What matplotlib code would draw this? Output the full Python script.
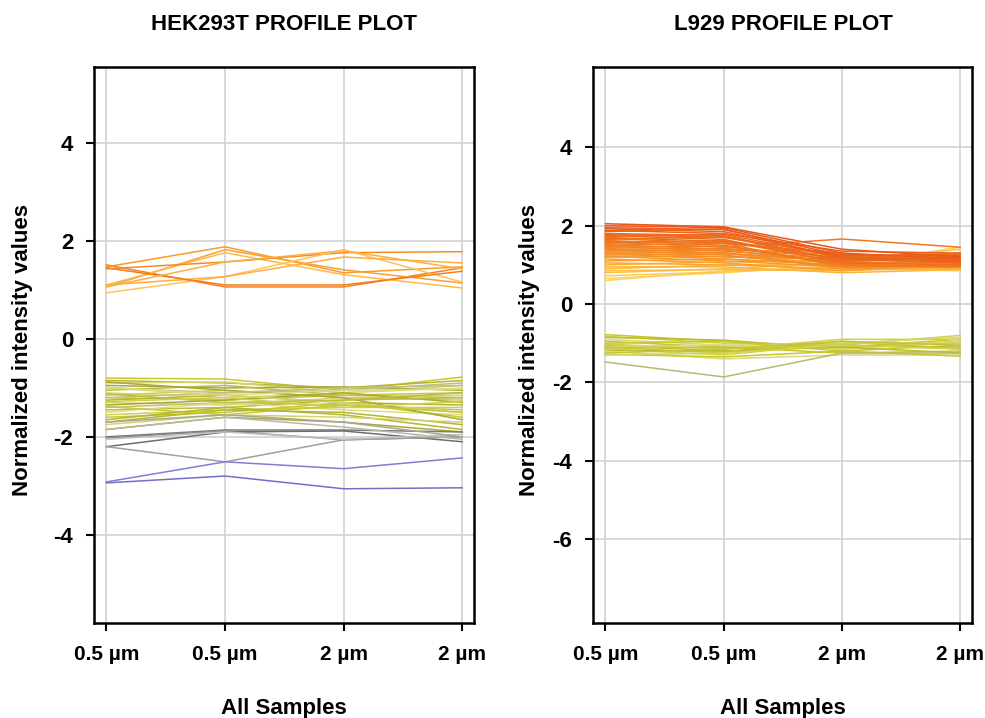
import numpy as np
import matplotlib.pyplot as plt
from matplotlib.colors import LinearSegmentedColormap

DPI = 100

samples = ['0.5 µm', '0.5 µm', '2 µm', '2 µm']

# HEK293T profiles (one row per protein, one column per sample)
hek_orange = [
    [1.51, 1.06, 1.06, 1.45],
    [1.47, 1.88, 1.35, 1.47],
    [1.06, 1.82, 1.41, 1.14],
    [1.10, 1.76, 1.31, 1.04],
    [1.43, 1.57, 1.76, 1.78],
    [0.94, 1.27, 1.82, 1.16],
    [1.10, 1.27, 1.67, 1.55],
    [1.45, 1.10, 1.10, 1.38],
    [1.06, 1.57, 1.80, 1.43],
]
hek_green = [
    [-0.80, -0.82, -1.05, -0.78],
    [-0.85, -0.90, -1.00, -0.85],
    [-0.90, -0.88, -1.10, -0.95],
    [-0.95, -1.00, -0.98, -1.05],
    [-1.00, -1.10, -1.05, -0.90],
    [-1.05, -0.95, -1.15, -1.20],
    [-1.10, -1.20, -1.10, -1.00],
    [-1.15, -1.05, -1.20, -1.25],
    [-1.20, -1.25, -1.15, -1.10],
    [-1.25, -1.15, -1.30, -1.35],
    [-1.30, -1.35, -1.20, -1.15],
    [-1.35, -1.25, -1.10, -1.30],
    [-1.40, -1.30, -1.35, -1.45],
    [-1.45, -1.40, -1.25, -1.20],
    [-1.50, -1.30, -1.45, -1.55],
    [-1.55, -1.45, -1.40, -1.40],
    [-1.60, -1.50, -1.30, -1.60],
    [-1.70, -1.45, -1.50, -1.75],
    [-1.00, -1.15, -1.30, -1.50],
    [-0.88, -1.05, -1.20, -1.65],
    [-1.20, -1.10, -1.00, -0.95],
    [-1.12, -1.30, -1.25, -1.10],
    [-0.98, -1.15, -1.05, -1.02],
    [-1.28, -1.20, -1.40, -1.28],
    [-1.38, -1.55, -1.35, -1.50],
    [-1.65, -1.40, -1.55, -1.85],
    [-1.75, -1.55, -1.60, -1.70],
    [-1.85, -1.60, -1.70, -1.90],
]
hek_gray = [
    [-2.00, -1.86, -1.86, -1.90],
    [-2.02, -1.88, -2.06, -2.00],
    [-2.20, -1.90, -1.88, -2.10],
    [-2.20, -2.51, -2.06, -2.00],
    [-1.85, -1.60, -1.80, -2.05],
    [-2.05, -1.90, -2.05, -1.95],
    [-1.70, -1.55, -1.70, -2.00],
]
hek_blue = [
    [-2.92, -2.51, -2.65, -2.43],
    [-2.94, -2.80, -3.06, -3.04],
]

# L929 profiles
l929_orange = [
    [2.05, 1.97, 1.40, 1.20],
    [2.00, 1.95, 1.30, 1.15],
    [1.95, 1.90, 1.25, 1.25],
    [1.92, 1.85, 1.20, 1.10],
    [1.88, 1.80, 1.35, 1.30],
    [1.85, 1.92, 1.15, 1.05],
    [1.80, 1.75, 1.10, 1.20],
    [1.78, 1.70, 1.25, 1.15],
    [1.75, 1.65, 1.05, 1.00],
    [1.72, 1.78, 1.20, 1.10],
    [1.70, 1.60, 1.15, 1.25],
    [1.68, 1.55, 1.30, 1.05],
    [1.65, 1.72, 1.10, 1.15],
    [1.62, 1.50, 1.00, 0.95],
    [1.60, 1.58, 1.25, 1.20],
    [1.58, 1.45, 1.66, 1.45],
    [1.55, 1.62, 1.05, 1.10],
    [1.52, 1.40, 1.20, 1.30],
    [1.50, 1.55, 0.95, 1.00],
    [1.48, 1.35, 1.15, 1.15],
    [1.45, 1.48, 1.00, 1.05],
    [1.42, 1.30, 1.10, 1.20],
    [1.40, 1.42, 1.25, 1.10],
    [1.38, 1.25, 0.95, 0.95],
    [1.35, 1.38, 1.05, 1.05],
    [1.32, 1.20, 1.15, 1.25],
    [1.30, 1.32, 0.90, 1.00],
    [1.28, 1.15, 1.00, 1.10],
    [1.25, 1.28, 1.10, 1.15],
    [1.22, 1.10, 0.95, 0.95],
    [1.20, 1.22, 1.05, 1.30],
    [1.15, 1.05, 0.85, 1.00],
    [1.10, 1.15, 1.00, 1.10],
    [1.05, 1.00, 0.90, 0.90],
    [1.00, 1.08, 1.10, 1.20],
    [0.95, 0.95, 0.80, 0.88],
    [0.90, 1.00, 1.00, 1.05],
    [0.85, 0.88, 0.85, 0.95],
    [0.80, 0.90, 1.05, 1.40],
    [0.72, 0.82, 0.95, 1.00],
    [0.65, 0.80, 1.00, 1.45],
    [0.60, 0.85, 0.90, 0.85],
]
l929_green = [
    [-0.78, -0.95, -1.10, -0.90],
    [-0.82, -1.00, -1.05, -0.80],
    [-0.85, -0.92, -1.15, -0.95],
    [-0.90, -1.05, -1.00, -0.85],
    [-0.95, -1.10, -1.10, -1.00],
    [-1.00, -0.95, -1.20, -1.05],
    [-1.02, -1.15, -0.90, -0.90],
    [-1.05, -1.20, -1.05, -1.10],
    [-1.08, -1.05, -1.15, -0.95],
    [-1.10, -1.25, -0.95, -1.15],
    [-1.12, -1.10, -1.25, -1.20],
    [-1.15, -1.30, -1.00, -1.00],
    [-1.18, -1.20, -1.10, -1.25],
    [-1.20, -1.40, -1.30, -1.30],
    [-1.25, -1.15, -0.95, -1.05],
    [-1.28, -1.35, -1.20, -1.33],
    [-1.30, -1.25, -1.05, -1.15],
]
l929_outlier = [
    [-1.48, -1.86, -1.25, -1.25],
]

plt.rcParams['font.family'] = ['Liberation Sans', 'DejaVu Sans']
plt.rcParams['font.weight'] = 'bold'
plt.rcParams['axes.unicode_minus'] = False

fig = plt.figure(figsize=(985/DPI, 718/DPI), dpi=DPI)
ax1 = fig.add_axes([94/985, 1-623/718, 380/985, 556/718])
ax2 = fig.add_axes([593/985, 1-623/718, 379/985, 556/718])

x = np.arange(len(samples))

hek_orange_cols = ['#f5821f', '#f99a2a', '#f7a035', '#fdb94a', '#f58a25', '#ffc35a', '#fcae40', '#f37c1c', '#fbb040']
hek_green_cols = ['#c8c832', '#b5b531', '#d4d46a', '#a8a83a', '#c0c078', '#bcbc40', '#dcdc88', '#cfcf4a']
hek_gray_cols = ['#7a7a7a', '#8a8a8a', '#6e6e6e', '#a0a0a0', '#b8b8a8', '#c0c0c0', '#a8a890']
hek_blue_cols = ['#8080d0', '#7070c8']

for i, row in enumerate(hek_green):
    ax1.plot(x, row, color=hek_green_cols[i % len(hek_green_cols)], lw=1.1)
for i, row in enumerate(hek_gray):
    ax1.plot(x, row, color=hek_gray_cols[i % len(hek_gray_cols)], lw=1.1)
for i, row in enumerate(hek_blue):
    ax1.plot(x, row, color=hek_blue_cols[i], lw=1.1)
for i, row in enumerate(hek_orange):
    ax1.plot(x, row, color=hek_orange_cols[i % len(hek_orange_cols)], lw=1.1)

cmap = LinearSegmentedColormap.from_list('ora', ['#ffd45a', '#f9a530', '#f07a20', '#e8561a'])
for row in l929_orange[::-1]:
    ax2.plot(x, row, color=cmap((row[0] - 0.6) / 1.45), lw=1.1)
l929_green_cols = ['#c8c828', '#d2d250', '#bcbc30', '#d8d878', '#c4c43a']
for i, row in enumerate(l929_green):
    ax2.plot(x, row, color=l929_green_cols[i % len(l929_green_cols)], lw=1.1)
for row in l929_outlier:
    ax2.plot(x, row, color='#b8b870', lw=1.1)

ax1.set_ylim(-5.8, 5.55)
ax1.set_yticks([-4, -2, 0, 2, 4])
ax2.set_ylim(-8.14, 6.05)
ax2.set_yticks([-6, -4, -2, 0, 2, 4])

for ax in (ax1, ax2):
    ax.set_xlim(-0.105, 3.1)
    ax.set_xticks(x)
    ax.set_xticklabels(samples)
    ax.grid(True, color='#d2d2d2', lw=1.2)
    ax.set_axisbelow(True)
    for s in ax.spines.values():
        s.set_linewidth(1.8)
    ax.tick_params(axis='both', direction='out', length=6, width=1.5, labelsize=16)
    ax.tick_params(axis='x', pad=10, labelsize=15)
    ax.tick_params(axis='y', pad=9)

fig.text(284/985, 1-30/718, 'HEK293T PROFILE PLOT', ha='center', va='baseline', fontsize=16, fontweight='bold')
fig.text(783/985, 1-30/718, 'L929 PROFILE PLOT', ha='center', va='baseline', fontsize=16, fontweight='bold')
fig.text(284/985, 1-714/718, 'All Samples', ha='center', va='baseline', fontsize=16, fontweight='bold')
fig.text(783/985, 1-714/718, 'All Samples', ha='center', va='baseline', fontsize=16, fontweight='bold')
fig.text(23/985, 1-350/718, 'Normalized intensity values', ha='center', va='center', rotation=90, fontsize=16, fontweight='bold')
fig.text(530/985, 1-350/718, 'Normalized intensity values', ha='center', va='center', rotation=90, fontsize=16, fontweight='bold')

plt.savefig('out.png', dpi=DPI)
